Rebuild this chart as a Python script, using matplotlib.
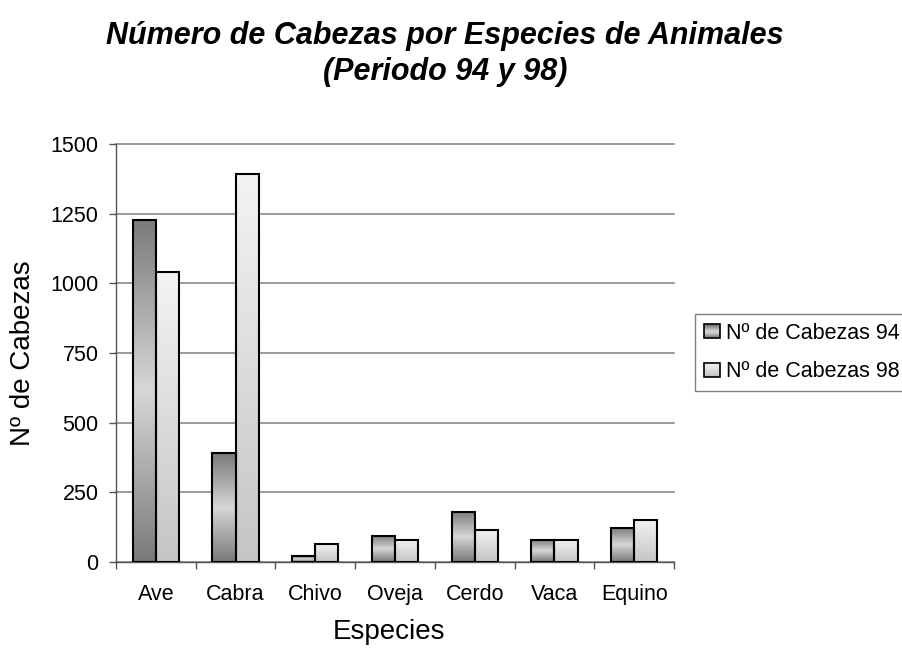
import numpy as np
import matplotlib
matplotlib.use("Agg")
import matplotlib.pyplot as plt
from matplotlib.patches import Rectangle, Patch
from matplotlib.legend_handler import HandlerBase

plt.rcParams['font.family'] = ['Liberation Sans', 'DejaVu Sans']

categories = ["Ave", "Cabra", "Chivo", "Oveja", "Cerdo", "Vaca", "Equino"]
cabezas_94 = [1228, 390, 20, 94, 180, 79, 123]
cabezas_98 = [1040, 1393, 66, 79, 115, 79, 152]
series_labels = ["Nº de Cabezas 94", "Nº de Cabezas 98"]
yticks = [0, 250, 500, 750, 1000, 1250, 1500]

title = "Número de Cabezas por Especies de Animales\n(Periodo 94 y 98)"
xlabel = "Especies"
ylabel = "Nº de Cabezas"

# gradients (top -> bottom)
N = 64
t = np.linspace(0, 1, N)
grad94 = 0.48 + (0.84 - 0.48) * (1 - np.abs(2 * t - 1))
grad98 = 0.95 + (0.77 - 0.95) * t

fig = plt.figure(figsize=(9.03, 6.5), dpi=100)
ax = fig.add_axes([116 / 903, 1 - 562 / 650, (674 - 116) / 903, (562 - 144) / 650])

x = np.arange(len(categories))
w = 0.29
bars94 = ax.bar(x - w / 2, cabezas_94, w, facecolor='none', edgecolor='black', linewidth=1.5, zorder=3)
bars98 = ax.bar(x + w / 2, cabezas_98, w, facecolor='none', edgecolor='black', linewidth=1.5, zorder=3)

for bars, g in ((bars94, grad94), (bars98, grad98)):
    for r in bars:
        x0, wd, h = r.get_x(), r.get_width(), r.get_height()
        ax.imshow(g.reshape(-1, 1), extent=[x0, x0 + wd, 0, h], aspect='auto',
                  cmap='gray', vmin=0, vmax=1, interpolation='bilinear', zorder=2.5)

ax.set_xlim(-0.5, len(categories) - 0.5)
ax.set_ylim(0, 1500)
ax.set_yticks(yticks)
ax.set_yticklabels([str(v) for v in yticks])
ax.grid(axis='y', color='#808080', linewidth=1.1, zorder=1)
for l in ax.get_ygridlines():
    l.set_clip_on(False)
ax.set_axisbelow(True)

ax.set_xticks(np.arange(len(categories) + 1) - 0.5)
ax.set_xticklabels([])
ax.set_xticks(x, minor=True)
ax.set_xticklabels(categories, minor=True)
ax.tick_params(axis='x', which='major', length=5, width=1, color='#555555', direction='out')
ax.tick_params(axis='x', which='minor', length=0, pad=15.5, labelsize=15.5)
ax.tick_params(axis='y', length=5, width=1, color='#555555', pad=7.5, labelsize=15.5)

for s in ('top', 'right'):
    ax.spines[s].set_visible(False)
for s in ('left', 'bottom'):
    ax.spines[s].set_color('#555555')
    ax.spines[s].set_linewidth(1)

ax.set_xlabel(xlabel, fontsize=20, va='center')
ax.xaxis.set_label_coords(0.49, (562 - 632) / 418)
ax.set_ylabel(ylabel, fontsize=20, va='center')
ax.yaxis.set_label_coords((23 - 116) / 558, 0.5)

fig.text(445 / 903, 1 - 54 / 650, title, ha='center', va='center', fontsize=22,
         fontweight='bold', fontstyle='italic', linespacing=1.3)


class GradHandler(HandlerBase):
    def __init__(self, colors):
        super().__init__()
        self.colors = colors

    def create_artists(self, legend, orig_handle, xdescent, ydescent, width, height, fontsize, trans):
        n = len(self.colors)
        arts = []
        for i, c in enumerate(self.colors[::-1]):
            arts.append(Rectangle((-xdescent, -ydescent + i * height / n), width, height / n,
                                  facecolor=str(c), edgecolor='none', transform=trans))
        arts.append(Rectangle((-xdescent, -ydescent), width, height, facecolor='none',
                              edgecolor='black', linewidth=1.2, transform=trans))
        return arts


h94 = Patch(label=series_labels[0])
h98 = Patch(label=series_labels[1])
idx = np.linspace(0, N - 1, 12).astype(int)
leg = fig.legend(handles=[h94, h98], labels=series_labels,
                 handler_map={h94: GradHandler([min(1, v) for v in grad94[idx]]),
                              h98: GradHandler([min(1, v) for v in grad98[idx]])},
                 loc='upper left', bbox_to_anchor=(695 / 903, 1 - 314 / 650),
                 fontsize=15.5, frameon=True, fancybox=False, edgecolor='#606060',
                 handlelength=0.72, handleheight=0.62, handletextpad=0.32,
                 borderpad=0.42, labelspacing=0.8, borderaxespad=0)
leg.get_frame().set_linewidth(1)

fig.savefig("out.png", dpi=100)
